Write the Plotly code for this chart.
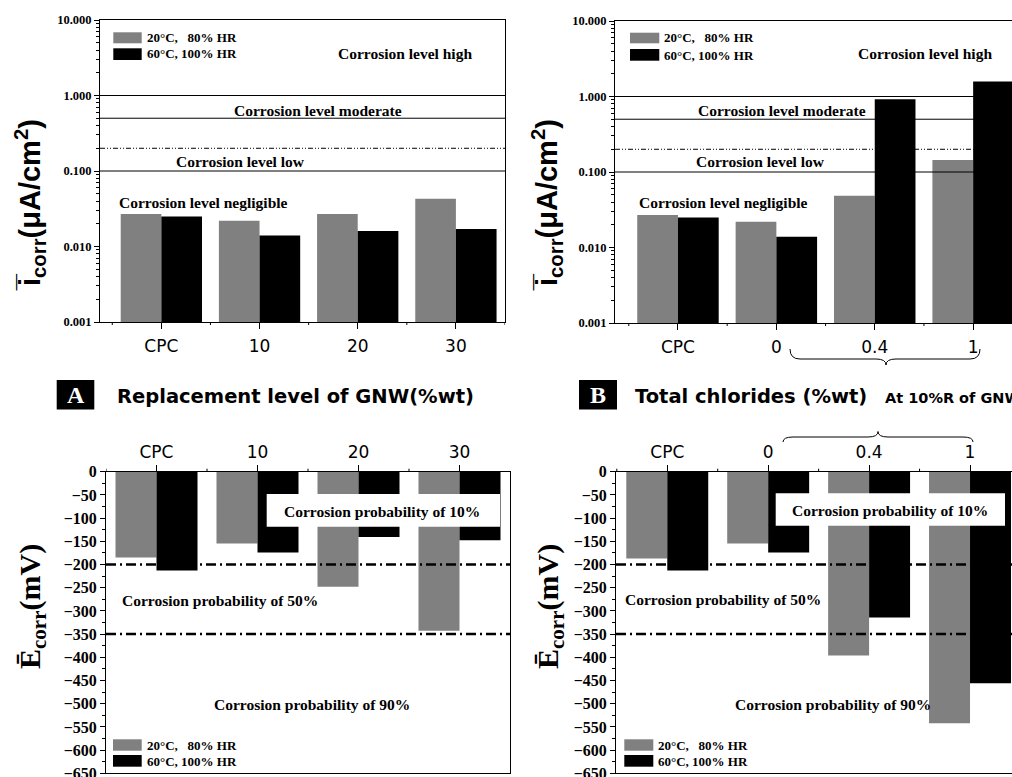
import plotly.graph_objects as go

W, H = 1012, 777

# ---------------- data ----------------
cats_A = ["CPC", "10", "20", "30"]
cats_B = ["CPC", "0", "0.4", "1"]
series_names = ["20°C,   80% HR", "60°C, 100% HR"]
icorr_A_20 = [0.027, 0.022, 0.027, 0.043]
icorr_A_60 = [0.025, 0.014, 0.016, 0.017]
icorr_B_20 = [0.027, 0.022, 0.0485, 0.144]
icorr_B_60 = [0.025, 0.0139, 0.92, 1.58]
ecorr_A_20 = [-185, -155, -248, -343]
ecorr_A_60 = [-213, -174, -141, -148]
ecorr_B_20 = [-187, -155, -396, -542]
ecorr_B_60 = [-213, -174, -314, -456]
icorr_levels = [1.0, 0.5, 0.2, 0.1]
ecorr_levels = [-200, -350]
log_ticks = [0.001, 0.01, 0.1, 1, 10]
log_ticktext = ["0.001", "0.010", "0.100", "1.000", "10.000"]
mv_ticks = list(range(-650, 1, 50))

GRAY = "#808080"
BLACK = "#000000"
SERIF = "Liberation Serif"
SANS = "DejaVu Sans"


def px(x):
    return x / W


def py(y):
    return 1 - y / H


fig = go.Figure()

# ---------------- bars ----------------
panels = [
    ("x", "y", cats_A, icorr_A_20, icorr_A_60, 0.414),
    ("x2", "y2", cats_B, icorr_B_20, icorr_B_60, 0.414),
    ("x3", "y3", cats_A, ecorr_A_20, ecorr_A_60, 0.406),
    ("x4", "y4", cats_B, ecorr_B_20, ecorr_B_60, 0.406),
]
for xa, ya, cats, s20, s60, bw in panels:
    fig.add_trace(go.Bar(x=cats, y=s20, xaxis=xa, yaxis=ya, name=series_names[0],
                         marker=dict(color=GRAY, line=dict(width=0)),
                         width=bw, offset=-bw, showlegend=False))
    fig.add_trace(go.Bar(x=cats, y=s60, xaxis=xa, yaxis=ya, name=series_names[1],
                         marker=dict(color=BLACK, line=dict(width=0)),
                         width=bw, offset=0, showlegend=False))

# ---------------- axes ----------------
tickfont_x = dict(family=SANS, size=17, color="black")
log_tickfont = dict(family=SERIF, size=12.5, color="black", weight="bold")
mv_tickfont = dict(family=SERIF, size=16, color="black", weight="bold")

common_x = dict(type="category", showgrid=False, zeroline=False, showline=True,
                linecolor="black", linewidth=1, ticks="outside", ticklen=6,
                tickcolor="black", tickfont=tickfont_x, automargin=False)
common_y = dict(showgrid=False, zeroline=False, showline=True, linecolor="black",
                ticks="outside", ticklen=5, tickcolor="black", automargin=False,
                ticklabeloverflow="allow")

fig.update_layout(
    width=W, height=H, margin=dict(l=0, r=0, t=0, b=0, autoexpand=False),
    paper_bgcolor="white", plot_bgcolor="white", barmode="overlay",
    showlegend=False,
    xaxis=dict(common_x, domain=[px(100), px(505)], range=[-0.625, 3.5],
               anchor="y", mirror=True, ticklabelstandoff=3),
    yaxis=dict(common_y, type="log", domain=[py(322), py(20)], range=[-3, 1], anchor="x",
               mirror=True, tickvals=log_ticks, ticktext=log_ticktext, tickfont=log_tickfont,
               minor=dict(ticks="outside", ticklen=3, tickcolor="black", dtick="D1",
                          showgrid=False)),
    xaxis2=dict(common_x, domain=[px(615), 1.0], range=[-0.64, 3.395],
                anchor="y2", mirror=True, ticklabelstandoff=3),
    yaxis2=dict(common_y, type="log", domain=[py(323), py(21)], range=[-3, 1], anchor="x2",
                mirror=False, tickvals=log_ticks, ticktext=log_ticktext, tickfont=log_tickfont,
                minor=dict(ticks="outside", ticklen=3, tickcolor="black", dtick="D1",
                           showgrid=False)),
    xaxis3=dict(common_x, domain=[px(106), px(510)], range=[-0.5, 3.5],
                anchor="y3", side="top", mirror=True),
    yaxis3=dict(common_y, domain=[py(773.3), py(471.7)], range=[-650, 0], anchor="x3",
                mirror=True, tickvals=mv_ticks, tickfont=mv_tickfont,
                minor=dict(ticks="outside", ticklen=3, tickcolor="black", dtick=25,
                           showgrid=False)),
    xaxis4=dict(common_x, domain=[px(616), 1.0], range=[-0.508, 3.416],
                anchor="y4", side="top", mirror=True),
    yaxis4=dict(common_y, domain=[py(773.3), py(471.7)], range=[-650, 0], anchor="x4",
                mirror=False, tickvals=mv_ticks, tickfont=mv_tickfont,
                minor=dict(ticks="outside", ticklen=3, tickcolor="black", dtick=25,
                           showgrid=False)),
)

shapes = []
annots = []

# minor x ticks between categories
for xa, ya, n, top in [("x", "y", 5, False), ("x2", "y2", 5, False),
                       ("x3", "y3", 4, True), ("x4", "y4", 5, True)]:
    for k in range(n):
        xv = k - 0.5
        if top:
            shapes.append(dict(type="line", xref=xa, yref=ya + " domain", x0=xv, x1=xv,
                               ysizemode="pixel", yanchor=1, y0=0, y1=3,
                               line=dict(color="black", width=1)))
        else:
            shapes.append(dict(type="line", xref=xa, yref=ya + " domain", x0=xv, x1=xv,
                               ysizemode="pixel", yanchor=0, y0=0, y1=-3,
                               line=dict(color="black", width=1)))

# corrosion level lines (top panels)
for xa, ya in [("x", "y"), ("x2", "y2")]:
    for lv in icorr_levels:
        dash = "5px,2px,1px,2px,1px,2px" if lv == 0.2 else "solid"
        shapes.append(dict(type="line", xref=xa + " domain", yref=ya, x0=0, x1=1,
                           y0=lv, y1=lv, layer="above",
                           line=dict(color="black", width=1, dash=dash)))

# corrosion probability lines (bottom panels)
for xa, ya in [("x3", "y3"), ("x4", "y4")]:
    for lv in ecorr_levels:
        shapes.append(dict(type="line", xref=xa + " domain", yref=ya, x0=0, x1=1,
                           y0=lv, y1=lv, layer="above",
                           line=dict(color="black", width=2.5, dash="10px,4px,2px,4px")))

# white boxes behind "10%" text
for x0, x1, y0, y1 in [(266.7, 500, 494, 526.7), (775.7, 1005, 493.3, 525.7)]:
    shapes.append(dict(type="rect", xref="paper", yref="paper", x0=px(x0), x1=px(x1),
                       y0=py(y1), y1=py(y0), fillcolor="white", line=dict(width=0),
                       layer="above"))

# legends (manual swatches)
legend_defs = [
    (113.3, 141.7, (32.3, 43.3), (48.3, 60.0), 145, 37.5, 54),
    (630.0, 659.3, (32.7, 43.3), (49.0, 60.7), 662, 38, 55),
    (113.0, 141.7, (739.3, 750.7), (755.0, 766.7), 145, 745, 761),
    (624.3, 653.3, (739.3, 750.7), (755.0, 766.7), 656, 745, 761),
]
for x0, x1, g, b, tx, ty1, ty2 in legend_defs:
    shapes.append(dict(type="rect", xref="paper", yref="paper", x0=px(x0), x1=px(x1),
                       y0=py(g[1]), y1=py(g[0]), fillcolor=GRAY, line=dict(width=0),
                       layer="above"))
    shapes.append(dict(type="rect", xref="paper", yref="paper", x0=px(x0), x1=px(x1),
                       y0=py(b[1]), y1=py(b[0]), fillcolor=BLACK, line=dict(width=0),
                       layer="above"))
    for t, yy in [(series_names[0], ty1), (series_names[1], ty2)]:
        annots.append(dict(text=t.replace("   ", "&nbsp;&nbsp;&nbsp;"), xref="paper", yref="paper",
                           x=px(tx), y=py(yy), xanchor="left", yanchor="middle",
                           showarrow=False,
                           font=dict(family=SERIF, size=13, color="black", weight="bold")))

# level annotations
lvl_font = dict(family=SERIF, size=15.5, color="black", weight="bold")
for t, x, y in [
    ("Corrosion level high", 405.3, 54), ("Corrosion level moderate", 318, 110),
    ("Corrosion level low", 240.5, 161), ("Corrosion level negligible", 203.3, 202),
    ("Corrosion level high", 925.3, 54), ("Corrosion level moderate", 782, 110),
    ("Corrosion level low", 760.7, 161), ("Corrosion level negligible", 723.8, 202),
    ("Corrosion probability of 10%", 382, 511), ("Corrosion probability of 50%", 220.3, 600),
    ("Corrosion probability of 90%", 312, 704.3),
    ("Corrosion probability of 10%", 890.3, 510), ("Corrosion probability of 50%", 723.3, 599),
    ("Corrosion probability of 90%", 833, 704.3),
]:
    annots.append(dict(text=t, xref="paper", yref="paper", x=px(x), y=py(y),
                       xanchor="center", yanchor="middle", showarrow=False, font=lvl_font))

# y-axis titles
for x, y in [(30, 205), (547, 205)]:
    annots.append(dict(text="i\u0305<sub>corr</sub>(μA/cm<sup>2</sup>)", xref="paper",
                       yref="paper", x=px(x), y=py(y), textangle=-90, showarrow=False,
                       xanchor="center", yanchor="middle",
                       font=dict(family="Liberation Sans", size=29, color="black",
                                 weight="bold")))
for x, y in [(32, 607), (550, 607)]:
    annots.append(dict(text="Ē<sub>corr</sub>(mV)", xref="paper",
                       yref="paper", x=px(x), y=py(y), textangle=-90, showarrow=False,
                       xanchor="center", yanchor="middle",
                       font=dict(family=SERIF, size=30, color="black", weight="bold")))

# panel labels A / B
for x0, x1, letter in [(56.7, 94.3, "A"), (579, 617, "B")]:
    shapes.append(dict(type="rect", xref="paper", yref="paper", x0=px(x0), x1=px(x1),
                       y0=py(409.5), y1=py(380), fillcolor="black", line=dict(width=0)))
    annots.append(dict(text=letter, xref="paper", yref="paper", x=px((x0 + x1) / 2),
                       y=py(395), xanchor="center", yanchor="middle", showarrow=False,
                       font=dict(family=SERIF, size=24, color="white", weight="bold")))
annots.append(dict(text="Replacement level of GNW(%wt)", xref="paper", yref="paper",
                   x=px(115), y=py(396), xanchor="left", yanchor="middle", showarrow=False,
                   font=dict(family=SANS, size=19.5, color="black", weight="bold")))
annots.append(dict(text="Total chlorides (%wt)", xref="paper", yref="paper",
                   x=px(633), y=py(396), xanchor="left", yanchor="middle", showarrow=False,
                   font=dict(family=SANS, size=19.5, color="black", weight="bold")))
annots.append(dict(text="At 10%R of GNW", xref="paper", yref="paper",
                   x=px(883), y=py(398), xanchor="left", yanchor="middle", showarrow=False,
                   font=dict(family=SANS, size=14.5, color="black", weight="bold")))


# curly braces
def brace(x0, x1, tip, y_end, y_mid, y_tip, r=10):
    pts = [
        f"M {px(x0)},{py(y_end)}",
        f"Q {px(x0)},{py(y_mid)} {px(x0 + r)},{py(y_mid)}",
        f"L {px(tip - r)},{py(y_mid)}",
        f"Q {px(tip)},{py(y_mid)} {px(tip)},{py(y_tip)}",
        f"Q {px(tip)},{py(y_mid)} {px(tip + r)},{py(y_mid)}",
        f"L {px(x1 - r)},{py(y_mid)}",
        f"Q {px(x1)},{py(y_mid)} {px(x1)},{py(y_end)}",
    ]
    return dict(type="path", xref="paper", yref="paper", path=" ".join(pts),
                line=dict(color="black", width=1))


shapes.append(brace(790, 980, 886, 349, 359, 365))
shapes.append(brace(783, 973, 878, 442, 437, 431.5))

fig.update_layout(shapes=shapes, annotations=annots)
fig.write_html("out.html", config={"displayModeBar": False},
               post_script="document.body.style.margin='0';"
                           "document.body.style.overflow='hidden';")
